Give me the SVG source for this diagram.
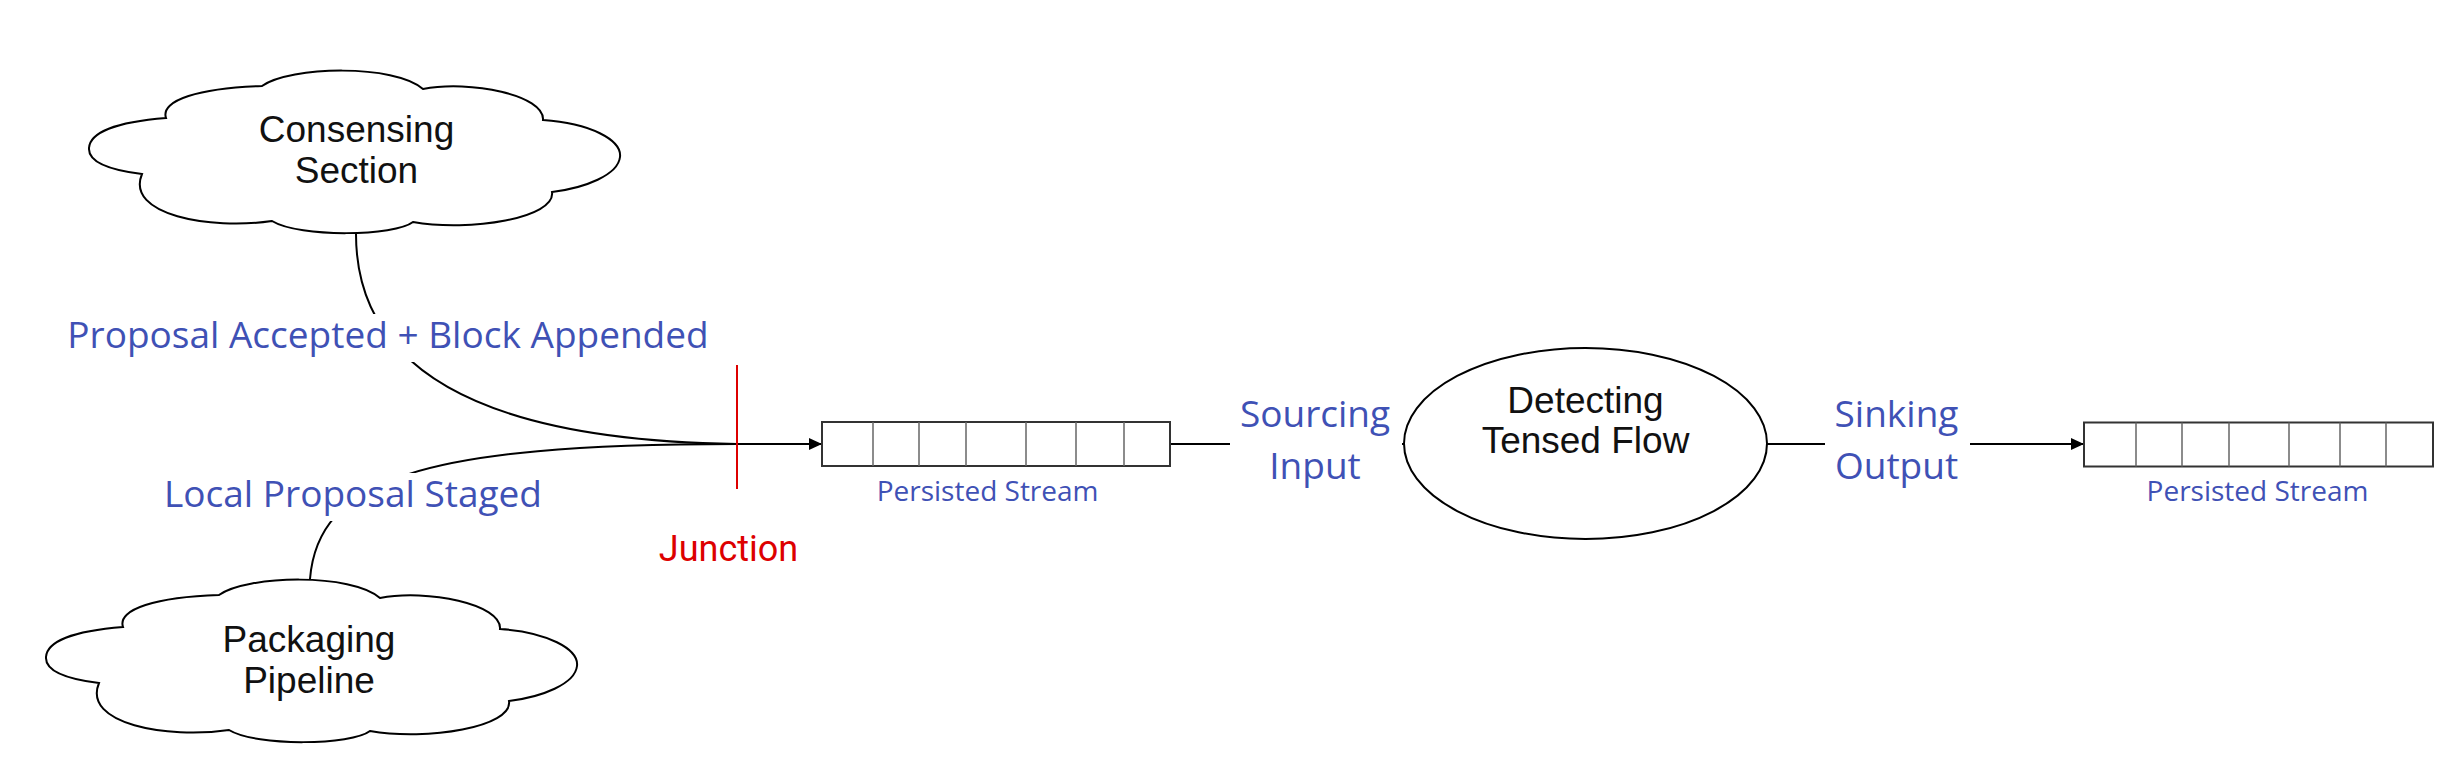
<svg xmlns="http://www.w3.org/2000/svg" width="2445" height="759" viewBox="0 0 2445 759">
<style>
.node{fill:#fff;stroke:#000;stroke-width:2}
.ntext{font-family:"Liberation Sans",Arial,sans-serif;font-size:37px;fill:#111;text-anchor:middle}
.lbl{font-family:"Open Sans","DejaVu Sans",sans-serif;font-size:37px;fill:#3F51B5;text-anchor:middle}
.small{font-family:"Open Sans","DejaVu Sans",sans-serif;font-size:28px;fill:#3F51B5;text-anchor:middle}
.edge{fill:none;stroke:#000;stroke-width:2}
.bg{fill:#fff;stroke:none}
.box{fill:#fff;stroke:#333;stroke-width:2}
.div{stroke:#666;stroke-width:1.5}
</style>
<defs>
<marker id="arrow" markerWidth="14" markerHeight="12" refX="13" refY="6" orient="auto" markerUnits="userSpaceOnUse">
<path d="M0,0 L13,6 L0,12 Z" fill="#000"/>
</marker>
<path id="cloud" d="M89,148 C90,133 115,122 166,118 C160,100 200,88 262,86 C290,66 395,64 423,89 C470,80 545,95 543,120 C590,123 622,140 620,157 C618,175 585,188 552,192 C556,218 470,232 413,222 C395,236 300,238 272,221 C210,230 125,215 142,174 C110,170 88,162 89,148 Z"/>
</defs>
<rect width="2445" height="759" fill="#fff"/>
<g id="connectors">
<path class="edge" d="M356,234 C356,345 440,440 737,444"/>
<path class="edge" d="M310,579 C318,480 420,444 737,444"/>
<path class="edge" d="M737,444 L822,444" marker-end="url(#arrow)"/>
<path class="edge" d="M1170,444 L1404,444"/>
<path class="edge" d="M1767,444 L2084,444" marker-end="url(#arrow)"/>
<rect class="bg" x="62" y="314" width="652" height="48"/>
<text class="lbl" x="388" y="348">Proposal Accepted + Block Appended</text>
<rect class="bg" x="162" y="473" width="383" height="48"/>
<text class="lbl" x="353" y="507">Local Proposal Staged</text>
<rect class="bg" x="1230" y="393" width="172" height="101"/>
<text class="lbl" x="1315" y="427">Sourcing</text>
<text class="lbl" x="1315" y="479">Input</text>
<rect class="bg" x="1825" y="393" width="145" height="101"/>
<text class="lbl" x="1896.5" y="427">Sinking</text>
<text class="lbl" x="1896.5" y="479">Output</text>
</g>
<g id="junction">
<line x1="737" y1="365" x2="737" y2="489" stroke="#DD0000" stroke-width="2"/>
<text x="728.5" y="561" font-family="Roboto,'Liberation Sans',sans-serif" font-size="36" fill="#DD0000" text-anchor="middle">Junction</text>
</g>
<g id="consensing-section">
<use href="#cloud" class="node"/>
<text class="ntext" x="356.5" y="142">Consensing</text>
<text class="ntext" x="356.5" y="183">Section</text>
</g>
<g id="packaging-pipeline">
<use href="#cloud" class="node" transform="translate(-43,509)"/>
<text class="ntext" x="309" y="652">Packaging</text>
<text class="ntext" x="309" y="693">Pipeline</text>
</g>
<g id="persisted-stream-1">
<rect class="box" x="822" y="422" width="348" height="44"/>
<g class="div">
<line x1="873" y1="422" x2="873" y2="466"/>
<line x1="919" y1="422" x2="919" y2="466"/>
<line x1="966" y1="422" x2="966" y2="466"/>
<line x1="1026" y1="422" x2="1026" y2="466"/>
<line x1="1076" y1="422" x2="1076" y2="466"/>
<line x1="1124" y1="422" x2="1124" y2="466"/>
</g>
<text class="small" x="987.6" y="501">Persisted Stream</text>
</g>
<g id="detecting-tensed-flow">
<ellipse class="node" cx="1585.5" cy="443.5" rx="181.5" ry="95.5"/>
<text class="ntext" x="1585.5" y="413">Detecting</text>
<text class="ntext" x="1585.5" y="453">Tensed Flow</text>
</g>
<g id="persisted-stream-2">
<rect class="box" x="2084" y="422.5" width="349" height="44"/>
<g class="div">
<line x1="2136" y1="422.5" x2="2136" y2="466.5"/>
<line x1="2182" y1="422.5" x2="2182" y2="466.5"/>
<line x1="2229" y1="422.5" x2="2229" y2="466.5"/>
<line x1="2289" y1="422.5" x2="2289" y2="466.5"/>
<line x1="2340" y1="422.5" x2="2340" y2="466.5"/>
<line x1="2386" y1="422.5" x2="2386" y2="466.5"/>
</g>
<text class="small" x="2257.5" y="501">Persisted Stream</text>
</g>
</svg>
